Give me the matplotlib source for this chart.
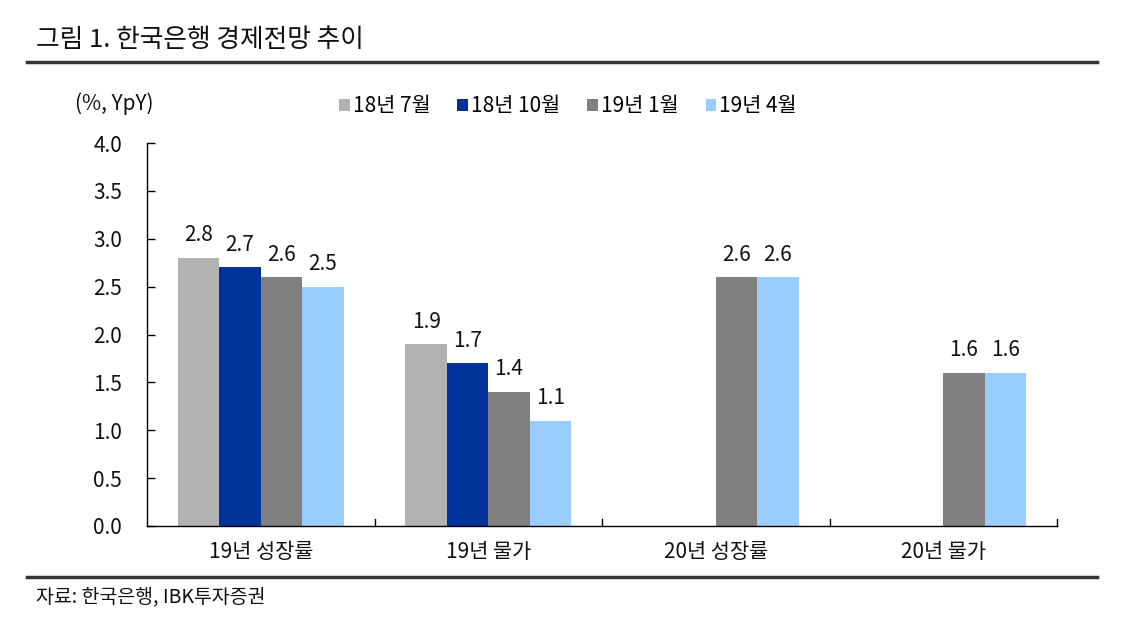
import matplotlib
matplotlib.use("Agg")
import matplotlib.pyplot as plt
import numpy as np
from matplotlib.patches import Patch

plt.rcParams['font.family'] = ['Noto Sans CJK KR', 'DejaVu Sans']

categories = ["19년 성장률", "19년 물가", "20년 성장률", "20년 물가"]
series_names = ["18년 7월", "18년 10월", "19년 1월", "19년 4월"]
s_18_7 = [2.8, 1.9, None, None]
s_18_10 = [2.7, 1.7, None, None]
s_19_1 = [2.6, 1.4, 2.6, 1.6]
s_19_4 = [2.5, 1.1, 2.6, 1.6]
series = [s_18_7, s_18_10, s_19_1, s_19_4]
colors = ["#b2b2b2", "#003399", "#808080", "#99ccff"]
yticks = [0.0, 0.5, 1.0, 1.5, 2.0, 2.5, 3.0, 3.5, 4.0]

FS = 15
W, H = 1134, 619
fig = plt.figure(figsize=(W / 100, H / 100), dpi=100)
ax = fig.add_axes([147 / W, 1 - 526 / H, (1057 - 147) / W, (526 - 143) / H])

x = np.arange(len(categories))
bw = 0.182
for i, (vals, c) in enumerate(zip(series, colors)):
    off = (i - 1.5) * bw
    for j, v in enumerate(vals):
        if v is None:
            continue
        ax.bar(x[j] + off, v, width=bw, color=c, edgecolor='none')
        ax.text(x[j] + off, v + 0.12, f"{v:.1f}", ha='center', va='bottom',
                fontsize=FS, color='#111111')

ax.set_xlim(-0.5, len(categories) - 0.5)
ax.set_ylim(0, 4.0)
ax.set_yticks(yticks)
ax.set_yticklabels([f"{t:.1f}" for t in yticks], fontsize=FS, color='#111111')
ax.tick_params(axis='y', direction='in', length=6, width=1, pad=18)
ax.set_xticks(x)
ax.set_xticklabels(categories, fontsize=FS, color='#111111')
ax.tick_params(axis='x', length=0, pad=11)
for b in np.arange(0.5, len(categories) - 0.5, 1.0):
    ax.plot([b, b], [0, 0.07], color='black', lw=1, clip_on=False)
ax.plot([len(categories) - 0.5] * 2, [0, 0.07], color='black', lw=1, clip_on=False)
for s in ['top', 'right']:
    ax.spines[s].set_visible(False)
for s in ['left', 'bottom']:
    ax.spines[s].set_linewidth(1)
    ax.spines[s].set_color('black')

# title and rules
fig.text(36 / W, 1 - 40 / H, "그림 1. 한국은행 경제전망 추이", fontsize=18.5, va='center',
         ha='left', color='#111111', fontweight='medium')
fig.add_artist(plt.Line2D([27 / W, 1097 / W], [1 - 62 / H] * 2, color='#333333', lw=2.5))
fig.add_artist(plt.Line2D([27 / W, 1097 / W], [1 - 577 / H] * 2, color='#333333', lw=2.5))
fig.text(36 / W, 1 - 597 / H, "자료: 한국은행, IBK투자증권", fontsize=14, va='center',
         ha='left', color='#111111')

fig.text(75 / W, 1 - 104 / H, "(%, YpY)", fontsize=FS, va='center', ha='left', color='#111111')

handles = [Patch(facecolor=c, edgecolor='none') for c in colors]
fig.legend(handles, series_names, loc='center', bbox_to_anchor=(568 / W, 1 - 106 / H),
           ncol=4, frameon=False, fontsize=FS, handlelength=0.5, handleheight=0.5,
           handletextpad=0.15, columnspacing=1.3, borderaxespad=0)

fig.savefig("out.png", dpi=100)
